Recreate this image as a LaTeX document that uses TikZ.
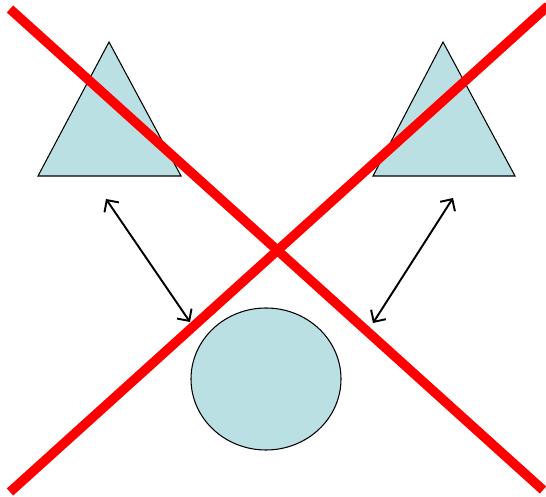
\documentclass[tikz,border=0pt]{standalone}
\usetikzlibrary{arrows.meta, shapes.geometric}
\definecolor{shapefill}{HTML}{BBE0E3}
\definecolor{crossred}{HTML}{FF0000}

\begin{document}
\begin{tikzpicture}[
    shp/.style={draw=black, line width=0.6pt, fill=shapefill},
    link/.style={black, line width=1.1pt, {Straight Barb[length=5pt,width=10pt]}-{Straight Barb[length=5pt,width=10pt]}},
    cross/.style={crossred, line width=5.4pt},
]
\useasboundingbox (0, 0) rectangle (10.92, 9.94);

% Triangles
\draw[shp] (2.18, 9.10) -- (3.62, 6.42) -- (0.76, 6.42) -- cycle;
\draw[shp] (8.86, 9.10) -- (10.30, 6.42) -- (7.46, 6.42) -- cycle;

% Circle
\node[shp, ellipse, inner sep=0pt, minimum width=3cm, minimum height=2.84cm]
    (blob) at (5.32, 2.36) {};

% Arrow ends
\coordinate (ltri) at (2.12, 5.96);
\coordinate (rtri) at (9.06, 5.98);
\coordinate (lblob) at (3.80, 3.50);
\coordinate (rblob) at (7.46, 3.48);

\draw[link] (ltri) -- (lblob);
\draw[link] (rtri) -- (rblob);

% Cross
\coordinate (nw) at (0.20, 9.76);
\coordinate (se) at (10.86, 0.14);
\coordinate (ne) at (10.96, 9.82);
\coordinate (sw) at (0.20, 0.10);
\draw[cross] (nw) -- (se);
\draw[cross] (ne) -- (sw);

\end{tikzpicture}
\end{document}
